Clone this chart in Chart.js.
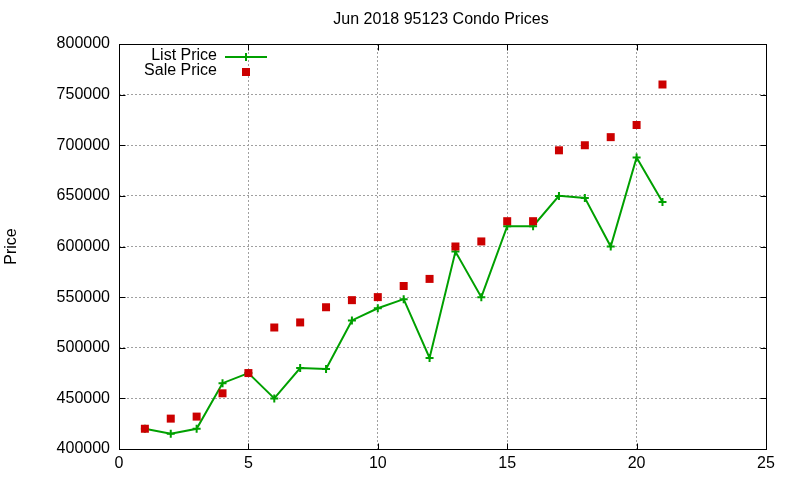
<!DOCTYPE html>
<html><head><meta charset="utf-8">
<script src="https://cdn.jsdelivr.net/npm/chart.js@4"></script>
<style>html,body{margin:0;padding:0;background:#fff}#wrap{width:800px;height:480px}</style>
</head><body><div id="wrap"><canvas id="c" width="800" height="480"></canvas></div>
<script>
const titleText = "Jun 2018 95123 Condo Prices";
const yTitle = "Price";
const months = [1,2,3,4,5,6,7,8,9,10,11,12,13,14,15,16,17,18,19,20,21];
const listPrice = [420000,415000,420000,465000,475000,450000,480000,479000,527000,539000,548000,490000,595000,550000,620000,620000,650000,648000,600000,688000,644000];
const salePrice = [420000,430000,432000,455000,475000,520000,525000,540000,547000,550000,561000,568000,600000,605000,625000,625000,695000,700000,708000,720000,760000];
const xTicks = [0,5,10,15,20,25];
const yTicks = [400000,450000,500000,550000,600000,650000,700000,750000,800000];
const seriesNames = ["List Price","Sale Price"];
const green = "#00a000", red = "#cc0000";
const FONT = "Liberation Sans, Arial, sans-serif";

const gnu = {
  id: 'gnu',
  afterDraw(chart) {
    const ctx = chart.ctx, a = chart.chartArea, xs = chart.scales.x, ys = chart.scales.y;
    ctx.save();
    ctx.strokeStyle = '#000'; ctx.lineWidth = 1; ctx.setLineDash([]);
    const L = Math.round(a.left)+0.5, R = Math.round(a.right)+0.5, T = Math.round(a.top)+0.5, B = Math.round(a.bottom)+0.5;
    ctx.beginPath();
    yTicks.forEach(v => { const y = Math.round(ys.getPixelForValue(v))+0.5;
      ctx.moveTo(L, y); ctx.lineTo(L+6, y); ctx.moveTo(R, y); ctx.lineTo(R-6, y); });
    xTicks.forEach(v => { const x = Math.round(xs.getPixelForValue(v))+0.5;
      ctx.moveTo(x, B); ctx.lineTo(x, B-6); ctx.moveTo(x, T); ctx.lineTo(x, T+6); });
    ctx.stroke();
    ctx.strokeRect(L, T, R-L, B-T);
    // title
    ctx.fillStyle = '#000'; ctx.font = '16px ' + FONT; ctx.textAlign = 'center'; ctx.textBaseline = 'middle';
    ctx.fillText(titleText, 441, 20);
    // legend
    ctx.textAlign = 'right';
    ctx.fillText(seriesNames[0], 217, 56);
    ctx.fillText(seriesNames[1], 217, 71);
    ctx.strokeStyle = green; ctx.lineWidth = 2;
    ctx.beginPath(); ctx.moveTo(225, 57); ctx.lineTo(267, 57);
    ctx.moveTo(246, 53); ctx.lineTo(246, 61); ctx.stroke();
    ctx.fillStyle = red; ctx.fillRect(242, 68, 8, 8);
    ctx.restore();
  }
};

new Chart(document.getElementById('c'), {
  type: 'scatter',
  data: {
    datasets: [
      { label: seriesNames[0], data: months.map((m,i)=>({x:m,y:listPrice[i]})), showLine: true,
        borderColor: green, backgroundColor: green, borderWidth: 2, pointStyle: 'cross',
        pointRadius: 4, pointBorderWidth: 2, pointHoverRadius: 4, order: 1 },
      { label: seriesNames[1], data: months.map((m,i)=>({x:m,y:salePrice[i]})), showLine: false,
        borderColor: red, backgroundColor: red, pointStyle: 'rect', pointRadius: 5.657, pointBorderWidth: 0,
        pointHoverRadius: 5.657, order: 0 }
    ]
  },
  options: {
    responsive: false, animation: false, devicePixelRatio: 1,
    layout: { padding: { top: 44, right: 34, left: 0, bottom: 0 } },
    plugins: { legend: { display: false }, title: { display: false }, tooltip: { enabled: false } },
    scales: {
      x: { type: 'linear', min: 0, max: 25,
        afterFit(s) { s.height = 31; },
        afterBuildTicks(s) { s.ticks = xTicks.map(v => ({ value: v })); },
        ticks: { color: '#000', font: { family: FONT, size: 16 }, padding: 5, maxRotation: 0 },
        grid: { drawTicks: false, color: '#a0a0a0', lineWidth: 1 },
        border: { display: false, dash: [2, 2] } },
      y: { type: 'linear', min: 400000, max: 800000,
        afterFit(s) { s.width = 119; },
        afterBuildTicks(s) { s.ticks = yTicks.map(v => ({ value: v })); },
        ticks: { color: '#000', font: { family: FONT, size: 16 }, padding: 9, callback: v => String(v) },
        grid: { drawTicks: false, color: '#a0a0a0', lineWidth: 1 },
        border: { display: false, dash: [2, 2] },
        title: { display: true, text: yTitle, color: '#000', font: { family: FONT, size: 16 }, padding: { top: 2, bottom: 0 } } }
    }
  },
  plugins: [gnu]
});
</script></body></html>
